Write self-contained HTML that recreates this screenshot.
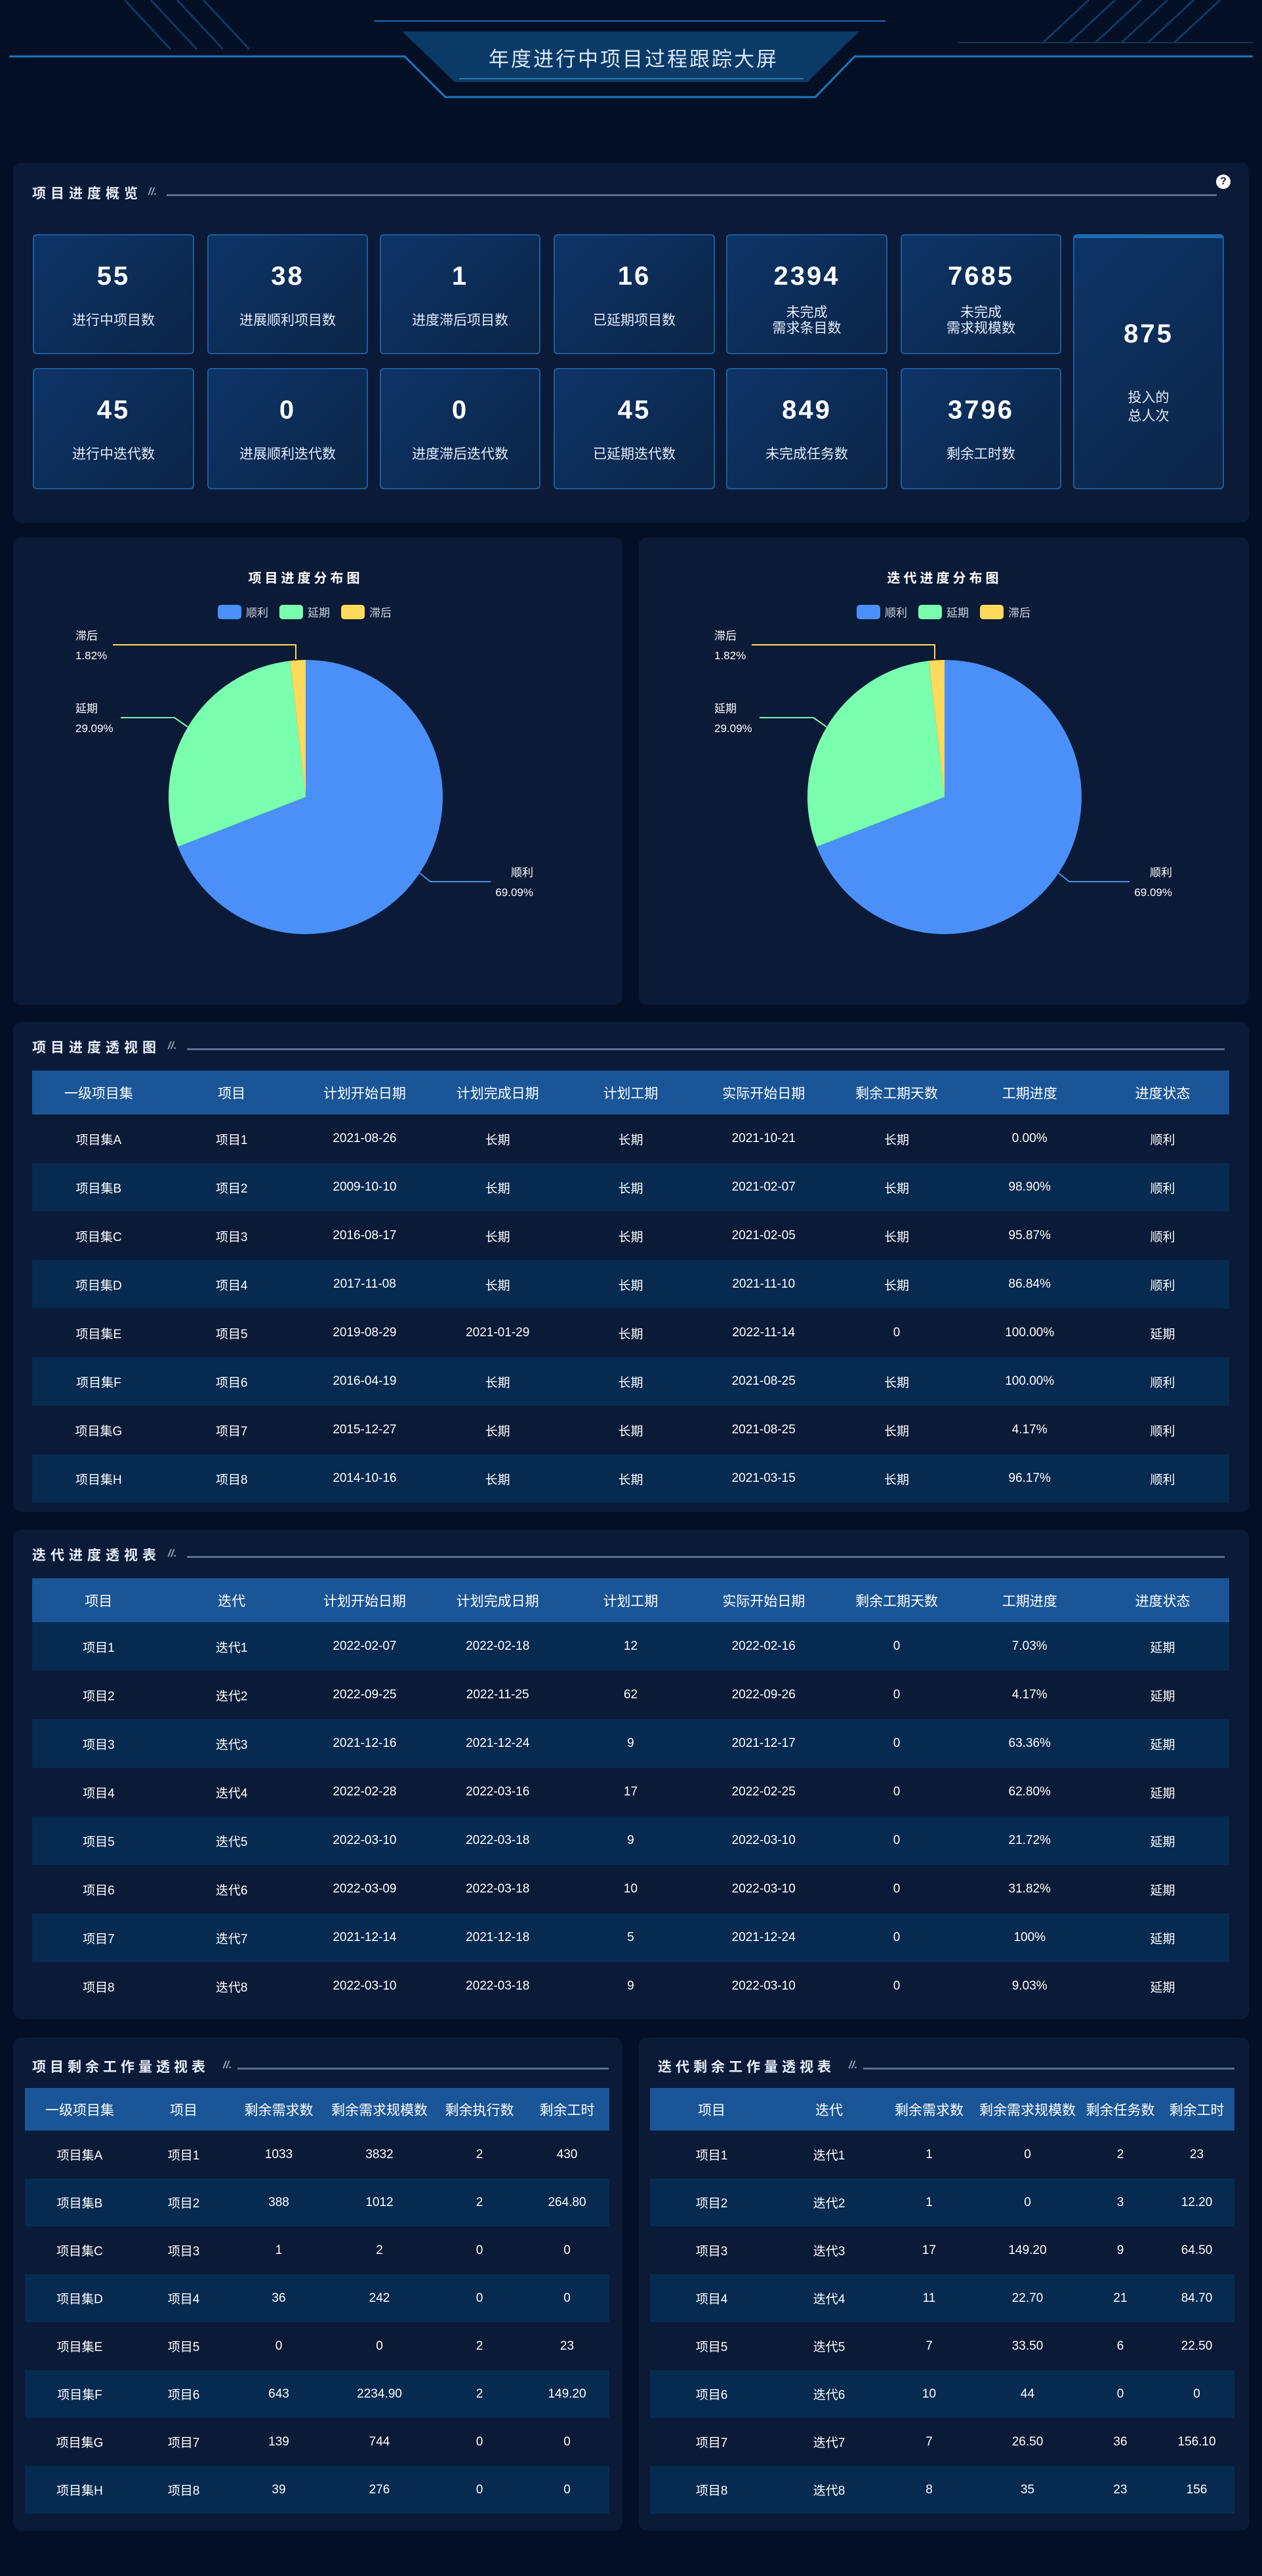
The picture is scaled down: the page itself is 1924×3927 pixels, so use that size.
<!DOCTYPE html>
<html><head><meta charset="utf-8">
<style>
*{margin:0;padding:0;box-sizing:border-box}
body{width:1924px;height:3927px;background:#020f25;position:relative;overflow:hidden;font-family:"Liberation Sans","Noto Sans CJK SC",sans-serif;color:#fff}
.abs{position:absolute}
.panel{position:absolute;background:#0b1a36;border-radius:12px}
.hd{position:absolute;font-size:21px;font-weight:bold;letter-spacing:7px;color:#e6eefc;white-space:nowrap;line-height:24px}
.hl{position:absolute;height:3px;background:#5b6f8f}
.card{position:absolute;border:2px solid #1d5c9c;border-radius:6px;background:linear-gradient(135deg,#0d3468,#0c2546);text-align:center}
.card .n{position:absolute;left:0;right:0;font-size:40px;font-weight:bold;letter-spacing:3px}
.card .l{position:absolute;left:0;right:0;font-size:21px;line-height:24px;color:#e6eefc}
table{position:absolute;border-collapse:collapse;table-layout:fixed}
th{background:#1a5597;font-weight:normal;font-size:21px;color:#fff;text-align:center}
td{font-size:19px;text-align:center;color:#fff}
tr.a td{background:#0b1a36}
tr.b td{background:#062a50}
</style></head><body>
<svg class="abs" style="left:0;top:0" width="1924" height="200">
<g stroke="#0e3a66" stroke-width="3" fill="none">
<line x1="190" y1="0" x2="260" y2="75"/><line x1="230" y1="0" x2="300" y2="75"/><line x1="270" y1="0" x2="340" y2="75"/><line x1="310" y1="0" x2="380" y2="75"/>
<line x1="1660" y1="0" x2="1590" y2="65"/><line x1="1700" y1="0" x2="1630" y2="65"/><line x1="1740" y1="0" x2="1670" y2="65"/><line x1="1780" y1="0" x2="1710" y2="65"/><line x1="1820" y1="0" x2="1750" y2="65"/><line x1="1860" y1="0" x2="1790" y2="65"/>
</g>
<line x1="1460" y1="65" x2="1910" y2="65" stroke="#0f3550" stroke-width="2"/>
<line x1="570" y1="32" x2="1350" y2="32" stroke="#1a6ab0" stroke-width="2"/>
<polygon points="613,48 1310,48 1231,125 693,125" fill="#0b3a66"/>
<line x1="700" y1="120" x2="1225" y2="120" stroke="#3aa0e0" stroke-width="2" opacity="0.6"/>
<polyline points="14,86 617,86 679,148 1243,148 1303,86 1910,86" fill="none" stroke="#1d78c0" stroke-width="3"/>
<text x="966" y="101" text-anchor="middle" font-size="31" fill="#d8e8fa" font-family="Liberation Sans, Noto Sans CJK SC, sans-serif" letter-spacing="3">年度进行中项目过程跟踪大屏</text>
</svg>

<div class="panel" style="left:20px;top:248px;width:1884px;height:549px"></div>
<div class="hd" style="left:49px;top:284px">项目进度概览</div>
<div class="abs" style="left:226px;top:284px;font-size:16px;color:#9ab;font-style:italic;font-weight:bold">//.</div>
<div class="hl" style="left:254px;top:296px;width:1601px"></div>
<div class="abs" style="left:1854px;top:266px;width:22px;height:22px;border-radius:50%;background:#fff;color:#0b1a36;font-size:16px;font-weight:bold;text-align:center;line-height:22px">?</div>

<div class="card" style="left:50px;top:357px;width:246px;height:183px"><div class="n" style="top:40px">55</div><div class="l" style="top:118px">进行中项目数</div></div>
<div class="card" style="left:316px;top:357px;width:245px;height:183px"><div class="n" style="top:40px">38</div><div class="l" style="top:118px">进展顺利项目数</div></div>
<div class="card" style="left:579px;top:357px;width:245px;height:183px"><div class="n" style="top:40px">1</div><div class="l" style="top:118px">进度滞后项目数</div></div>
<div class="card" style="left:844px;top:357px;width:246px;height:183px"><div class="n" style="top:40px">16</div><div class="l" style="top:118px">已延期项目数</div></div>
<div class="card" style="left:1107px;top:357px;width:246px;height:183px"><div class="n" style="top:40px">2394</div><div class="l" style="top:106px">未完成<br>需求条目数</div></div>
<div class="card" style="left:1373px;top:357px;width:245px;height:183px"><div class="n" style="top:40px">7685</div><div class="l" style="top:106px">未完成<br>需求规模数</div></div>
<div class="card" style="left:50px;top:561px;width:246px;height:185px"><div class="n" style="top:40px">45</div><div class="l" style="top:118px">进行中迭代数</div></div>
<div class="card" style="left:316px;top:561px;width:245px;height:185px"><div class="n" style="top:40px">0</div><div class="l" style="top:118px">进展顺利迭代数</div></div>
<div class="card" style="left:579px;top:561px;width:245px;height:185px"><div class="n" style="top:40px">0</div><div class="l" style="top:118px">进度滞后迭代数</div></div>
<div class="card" style="left:844px;top:561px;width:246px;height:185px"><div class="n" style="top:40px">45</div><div class="l" style="top:118px">已延期迭代数</div></div>
<div class="card" style="left:1107px;top:561px;width:246px;height:185px"><div class="n" style="top:40px">849</div><div class="l" style="top:118px">未完成任务数</div></div>
<div class="card" style="left:1373px;top:561px;width:245px;height:185px"><div class="n" style="top:40px">3796</div><div class="l" style="top:118px">剩余工时数</div></div>
<div class="card" style="left:1636px;top:357px;width:230px;height:389px;border-top:6px solid #1d6ab0"><div class="n" style="top:124px">875</div><div class="l" style="top:230px;line-height:28px">投入的<br>总人次</div></div>

<div class="panel" style="left:20px;top:819px;width:929px;height:713px"></div>
<div class="panel" style="left:974px;top:819px;width:930px;height:713px"></div>
<svg class="abs" style="left:0;top:819px" width="1924" height="713" font-family="Liberation Sans, Noto Sans CJK SC, sans-serif">
<g id="p1">
<text x="466" y="69" text-anchor="middle" font-size="20" font-weight="bold" fill="#fff" letter-spacing="5">项目进度分布图</text>
<rect x="332" y="103" width="36" height="22" rx="5" fill="#4a90f8"/><text x="375" y="121" font-size="17" fill="#cfd8e6">顺利</text>
<rect x="426" y="103" width="36" height="22" rx="5" fill="#79ffad"/><text x="469" y="121" font-size="17" fill="#cfd8e6">延期</text>
<rect x="520" y="103" width="36" height="22" rx="5" fill="#ffda5c"/><text x="563" y="121" font-size="17" fill="#cfd8e6">滞后</text>
<path d="M466,396 L466,187 A209,209 0 1 1 271.2,471.8 Z" fill="#4a90f8"/>
<path d="M466,396 L271.2,471.8 A209,209 0 0 1 442.2,188.4 Z" fill="#79ffad"/>
<path d="M466,396 L442.2,188.4 A209,209 0 0 1 466,187 Z" fill="#ffda5c"/>
<polyline points="172,164 451,164 451,186" fill="none" stroke="#ffda5c" stroke-width="2"/>
<polyline points="184,275 266,275 286,289" fill="none" stroke="#79ffad" stroke-width="2"/>
<polyline points="640,512 656,525 748,525" fill="none" stroke="#4a90f8" stroke-width="2"/>
<text x="115" y="156" font-size="17" fill="#fff">滞后</text><text x="115" y="186" font-size="17" fill="#fff">1.82%</text>
<text x="115" y="267" font-size="17" fill="#fff">延期</text><text x="115" y="297" font-size="17" fill="#fff">29.09%</text>
<text x="813" y="517" font-size="17" fill="#fff" text-anchor="end">顺利</text><text x="813" y="547" font-size="17" fill="#fff" text-anchor="end">69.09%</text>
</g>
<g transform="translate(974,0)">
<text x="466" y="69" text-anchor="middle" font-size="20" font-weight="bold" fill="#fff" letter-spacing="5">迭代进度分布图</text>
<rect x="332" y="103" width="36" height="22" rx="5" fill="#4a90f8"/><text x="375" y="121" font-size="17" fill="#cfd8e6">顺利</text>
<rect x="426" y="103" width="36" height="22" rx="5" fill="#79ffad"/><text x="469" y="121" font-size="17" fill="#cfd8e6">延期</text>
<rect x="520" y="103" width="36" height="22" rx="5" fill="#ffda5c"/><text x="563" y="121" font-size="17" fill="#cfd8e6">滞后</text>
<path d="M466,396 L466,187 A209,209 0 1 1 271.2,471.8 Z" fill="#4a90f8"/>
<path d="M466,396 L271.2,471.8 A209,209 0 0 1 442.2,188.4 Z" fill="#79ffad"/>
<path d="M466,396 L442.2,188.4 A209,209 0 0 1 466,187 Z" fill="#ffda5c"/>
<polyline points="172,164 451,164 451,186" fill="none" stroke="#ffda5c" stroke-width="2"/>
<polyline points="184,275 266,275 286,289" fill="none" stroke="#79ffad" stroke-width="2"/>
<polyline points="640,512 656,525 748,525" fill="none" stroke="#4a90f8" stroke-width="2"/>
<text x="115" y="156" font-size="17" fill="#fff">滞后</text><text x="115" y="186" font-size="17" fill="#fff">1.82%</text>
<text x="115" y="267" font-size="17" fill="#fff">延期</text><text x="115" y="297" font-size="17" fill="#fff">29.09%</text>
<text x="813" y="517" font-size="17" fill="#fff" text-anchor="end">顺利</text><text x="813" y="547" font-size="17" fill="#fff" text-anchor="end">69.09%</text>
</g>
</svg>

<div class="panel" style="left:20px;top:1558px;width:1884px;height:747px"></div>
<div class="hd" style="left:49px;top:1586px">项目进度透视图</div>
<div class="abs" style="left:256px;top:1586px;font-size:16px;color:#9ab;font-style:italic;font-weight:bold">//.</div>
<div class="hl" style="left:285px;top:1598px;width:1582px"></div>
<table style="left:49px;top:1632px;width:1825px">
<tr style="height:67px"><th>一级项目集</th><th>项目</th><th>计划开始日期</th><th>计划完成日期</th><th>计划工期</th><th>实际开始日期</th><th>剩余工期天数</th><th>工期进度</th><th>进度状态</th></tr>
<tr class="a" style="height:74px"><td>项目集A</td><td>项目1</td><td>2021-08-26</td><td>长期</td><td>长期</td><td>2021-10-21</td><td>长期</td><td>0.00%</td><td>顺利</td></tr>
<tr class="b" style="height:74px"><td>项目集B</td><td>项目2</td><td>2009-10-10</td><td>长期</td><td>长期</td><td>2021-02-07</td><td>长期</td><td>98.90%</td><td>顺利</td></tr>
<tr class="a" style="height:74px"><td>项目集C</td><td>项目3</td><td>2016-08-17</td><td>长期</td><td>长期</td><td>2021-02-05</td><td>长期</td><td>95.87%</td><td>顺利</td></tr>
<tr class="b" style="height:74px"><td>项目集D</td><td>项目4</td><td>2017-11-08</td><td>长期</td><td>长期</td><td>2021-11-10</td><td>长期</td><td>86.84%</td><td>顺利</td></tr>
<tr class="a" style="height:74px"><td>项目集E</td><td>项目5</td><td>2019-08-29</td><td>2021-01-29</td><td>长期</td><td>2022-11-14</td><td>0</td><td>100.00%</td><td>延期</td></tr>
<tr class="b" style="height:74px"><td>项目集F</td><td>项目6</td><td>2016-04-19</td><td>长期</td><td>长期</td><td>2021-08-25</td><td>长期</td><td>100.00%</td><td>顺利</td></tr>
<tr class="a" style="height:74px"><td>项目集G</td><td>项目7</td><td>2015-12-27</td><td>长期</td><td>长期</td><td>2021-08-25</td><td>长期</td><td>4.17%</td><td>顺利</td></tr>
<tr class="b" style="height:74px"><td>项目集H</td><td>项目8</td><td>2014-10-16</td><td>长期</td><td>长期</td><td>2021-03-15</td><td>长期</td><td>96.17%</td><td>顺利</td></tr>
</table>

<div class="panel" style="left:20px;top:2332px;width:1884px;height:746px"></div>
<div class="hd" style="left:49px;top:2360px">迭代进度透视表</div>
<div class="abs" style="left:256px;top:2360px;font-size:16px;color:#9ab;font-style:italic;font-weight:bold">//.</div>
<div class="hl" style="left:285px;top:2372px;width:1582px"></div>
<table style="left:49px;top:2406px;width:1825px">
<tr style="height:67px"><th>项目</th><th>迭代</th><th>计划开始日期</th><th>计划完成日期</th><th>计划工期</th><th>实际开始日期</th><th>剩余工期天数</th><th>工期进度</th><th>进度状态</th></tr>
<tr class="b" style="height:74px"><td>项目1</td><td>迭代1</td><td>2022-02-07</td><td>2022-02-18</td><td>12</td><td>2022-02-16</td><td>0</td><td>7.03%</td><td>延期</td></tr>
<tr class="a" style="height:74px"><td>项目2</td><td>迭代2</td><td>2022-09-25</td><td>2022-11-25</td><td>62</td><td>2022-09-26</td><td>0</td><td>4.17%</td><td>延期</td></tr>
<tr class="b" style="height:74px"><td>项目3</td><td>迭代3</td><td>2021-12-16</td><td>2021-12-24</td><td>9</td><td>2021-12-17</td><td>0</td><td>63.36%</td><td>延期</td></tr>
<tr class="a" style="height:74px"><td>项目4</td><td>迭代4</td><td>2022-02-28</td><td>2022-03-16</td><td>17</td><td>2022-02-25</td><td>0</td><td>62.80%</td><td>延期</td></tr>
<tr class="b" style="height:74px"><td>项目5</td><td>迭代5</td><td>2022-03-10</td><td>2022-03-18</td><td>9</td><td>2022-03-10</td><td>0</td><td>21.72%</td><td>延期</td></tr>
<tr class="a" style="height:74px"><td>项目6</td><td>迭代6</td><td>2022-03-09</td><td>2022-03-18</td><td>10</td><td>2022-03-10</td><td>0</td><td>31.82%</td><td>延期</td></tr>
<tr class="b" style="height:74px"><td>项目7</td><td>迭代7</td><td>2021-12-14</td><td>2021-12-18</td><td>5</td><td>2021-12-24</td><td>0</td><td>100%</td><td>延期</td></tr>
<tr class="a" style="height:74px"><td>项目8</td><td>迭代8</td><td>2022-03-10</td><td>2022-03-18</td><td>9</td><td>2022-03-10</td><td>0</td><td>9.03%</td><td>延期</td></tr>
</table>

<div class="panel" style="left:20px;top:3106px;width:929px;height:752px"></div>
<div class="panel" style="left:974px;top:3106px;width:930px;height:752px"></div>
<div class="hd" style="left:49px;top:3140px;letter-spacing:6px">项目剩余工作量透视表</div>
<div class="abs" style="left:340px;top:3140px;font-size:16px;color:#9ab;font-style:italic;font-weight:bold">//.</div>
<div class="hl" style="left:362px;top:3152px;width:566px"></div>
<div class="hd" style="left:1003px;top:3140px;letter-spacing:6px">迭代剩余工作量透视表</div>
<div class="abs" style="left:1294px;top:3140px;font-size:16px;color:#9ab;font-style:italic;font-weight:bold">//.</div>
<div class="hl" style="left:1316px;top:3152px;width:566px"></div>

<table style="left:38px;top:3183px;width:891px">
<colgroup><col style="width:167px"><col style="width:150px"><col style="width:140px"><col style="width:167px"><col style="width:138px"><col style="width:129px"></colgroup>
<tr style="height:65px"><th>一级项目集</th><th>项目</th><th>剩余需求数</th><th>剩余需求规模数</th><th>剩余执行数</th><th>剩余工时</th></tr>
<tr class="a" style="height:73px"><td>项目集A</td><td>项目1</td><td>1033</td><td>3832</td><td>2</td><td>430</td></tr>
<tr class="b" style="height:73px"><td>项目集B</td><td>项目2</td><td>388</td><td>1012</td><td>2</td><td>264.80</td></tr>
<tr class="a" style="height:73px"><td>项目集C</td><td>项目3</td><td>1</td><td>2</td><td>0</td><td>0</td></tr>
<tr class="b" style="height:73px"><td>项目集D</td><td>项目4</td><td>36</td><td>242</td><td>0</td><td>0</td></tr>
<tr class="a" style="height:73px"><td>项目集E</td><td>项目5</td><td>0</td><td>0</td><td>2</td><td>23</td></tr>
<tr class="b" style="height:73px"><td>项目集F</td><td>项目6</td><td>643</td><td>2234.90</td><td>2</td><td>149.20</td></tr>
<tr class="a" style="height:73px"><td>项目集G</td><td>项目7</td><td>139</td><td>744</td><td>0</td><td>0</td></tr>
<tr class="b" style="height:73px"><td>项目集H</td><td>项目8</td><td>39</td><td>276</td><td>0</td><td>0</td></tr>
</table>

<table style="left:991px;top:3183px;width:891px">
<colgroup><col style="width:188px"><col style="width:170px"><col style="width:135px"><col style="width:165px"><col style="width:118px"><col style="width:115px"></colgroup>
<tr style="height:65px"><th>项目</th><th>迭代</th><th>剩余需求数</th><th>剩余需求规模数</th><th>剩余任务数</th><th>剩余工时</th></tr>
<tr class="a" style="height:73px"><td>项目1</td><td>迭代1</td><td>1</td><td>0</td><td>2</td><td>23</td></tr>
<tr class="b" style="height:73px"><td>项目2</td><td>迭代2</td><td>1</td><td>0</td><td>3</td><td>12.20</td></tr>
<tr class="a" style="height:73px"><td>项目3</td><td>迭代3</td><td>17</td><td>149.20</td><td>9</td><td>64.50</td></tr>
<tr class="b" style="height:73px"><td>项目4</td><td>迭代4</td><td>11</td><td>22.70</td><td>21</td><td>84.70</td></tr>
<tr class="a" style="height:73px"><td>项目5</td><td>迭代5</td><td>7</td><td>33.50</td><td>6</td><td>22.50</td></tr>
<tr class="b" style="height:73px"><td>项目6</td><td>迭代6</td><td>10</td><td>44</td><td>0</td><td>0</td></tr>
<tr class="a" style="height:73px"><td>项目7</td><td>迭代7</td><td>7</td><td>26.50</td><td>36</td><td>156.10</td></tr>
<tr class="b" style="height:73px"><td>项目8</td><td>迭代8</td><td>8</td><td>35</td><td>23</td><td>156</td></tr>
</table>
</body></html>
